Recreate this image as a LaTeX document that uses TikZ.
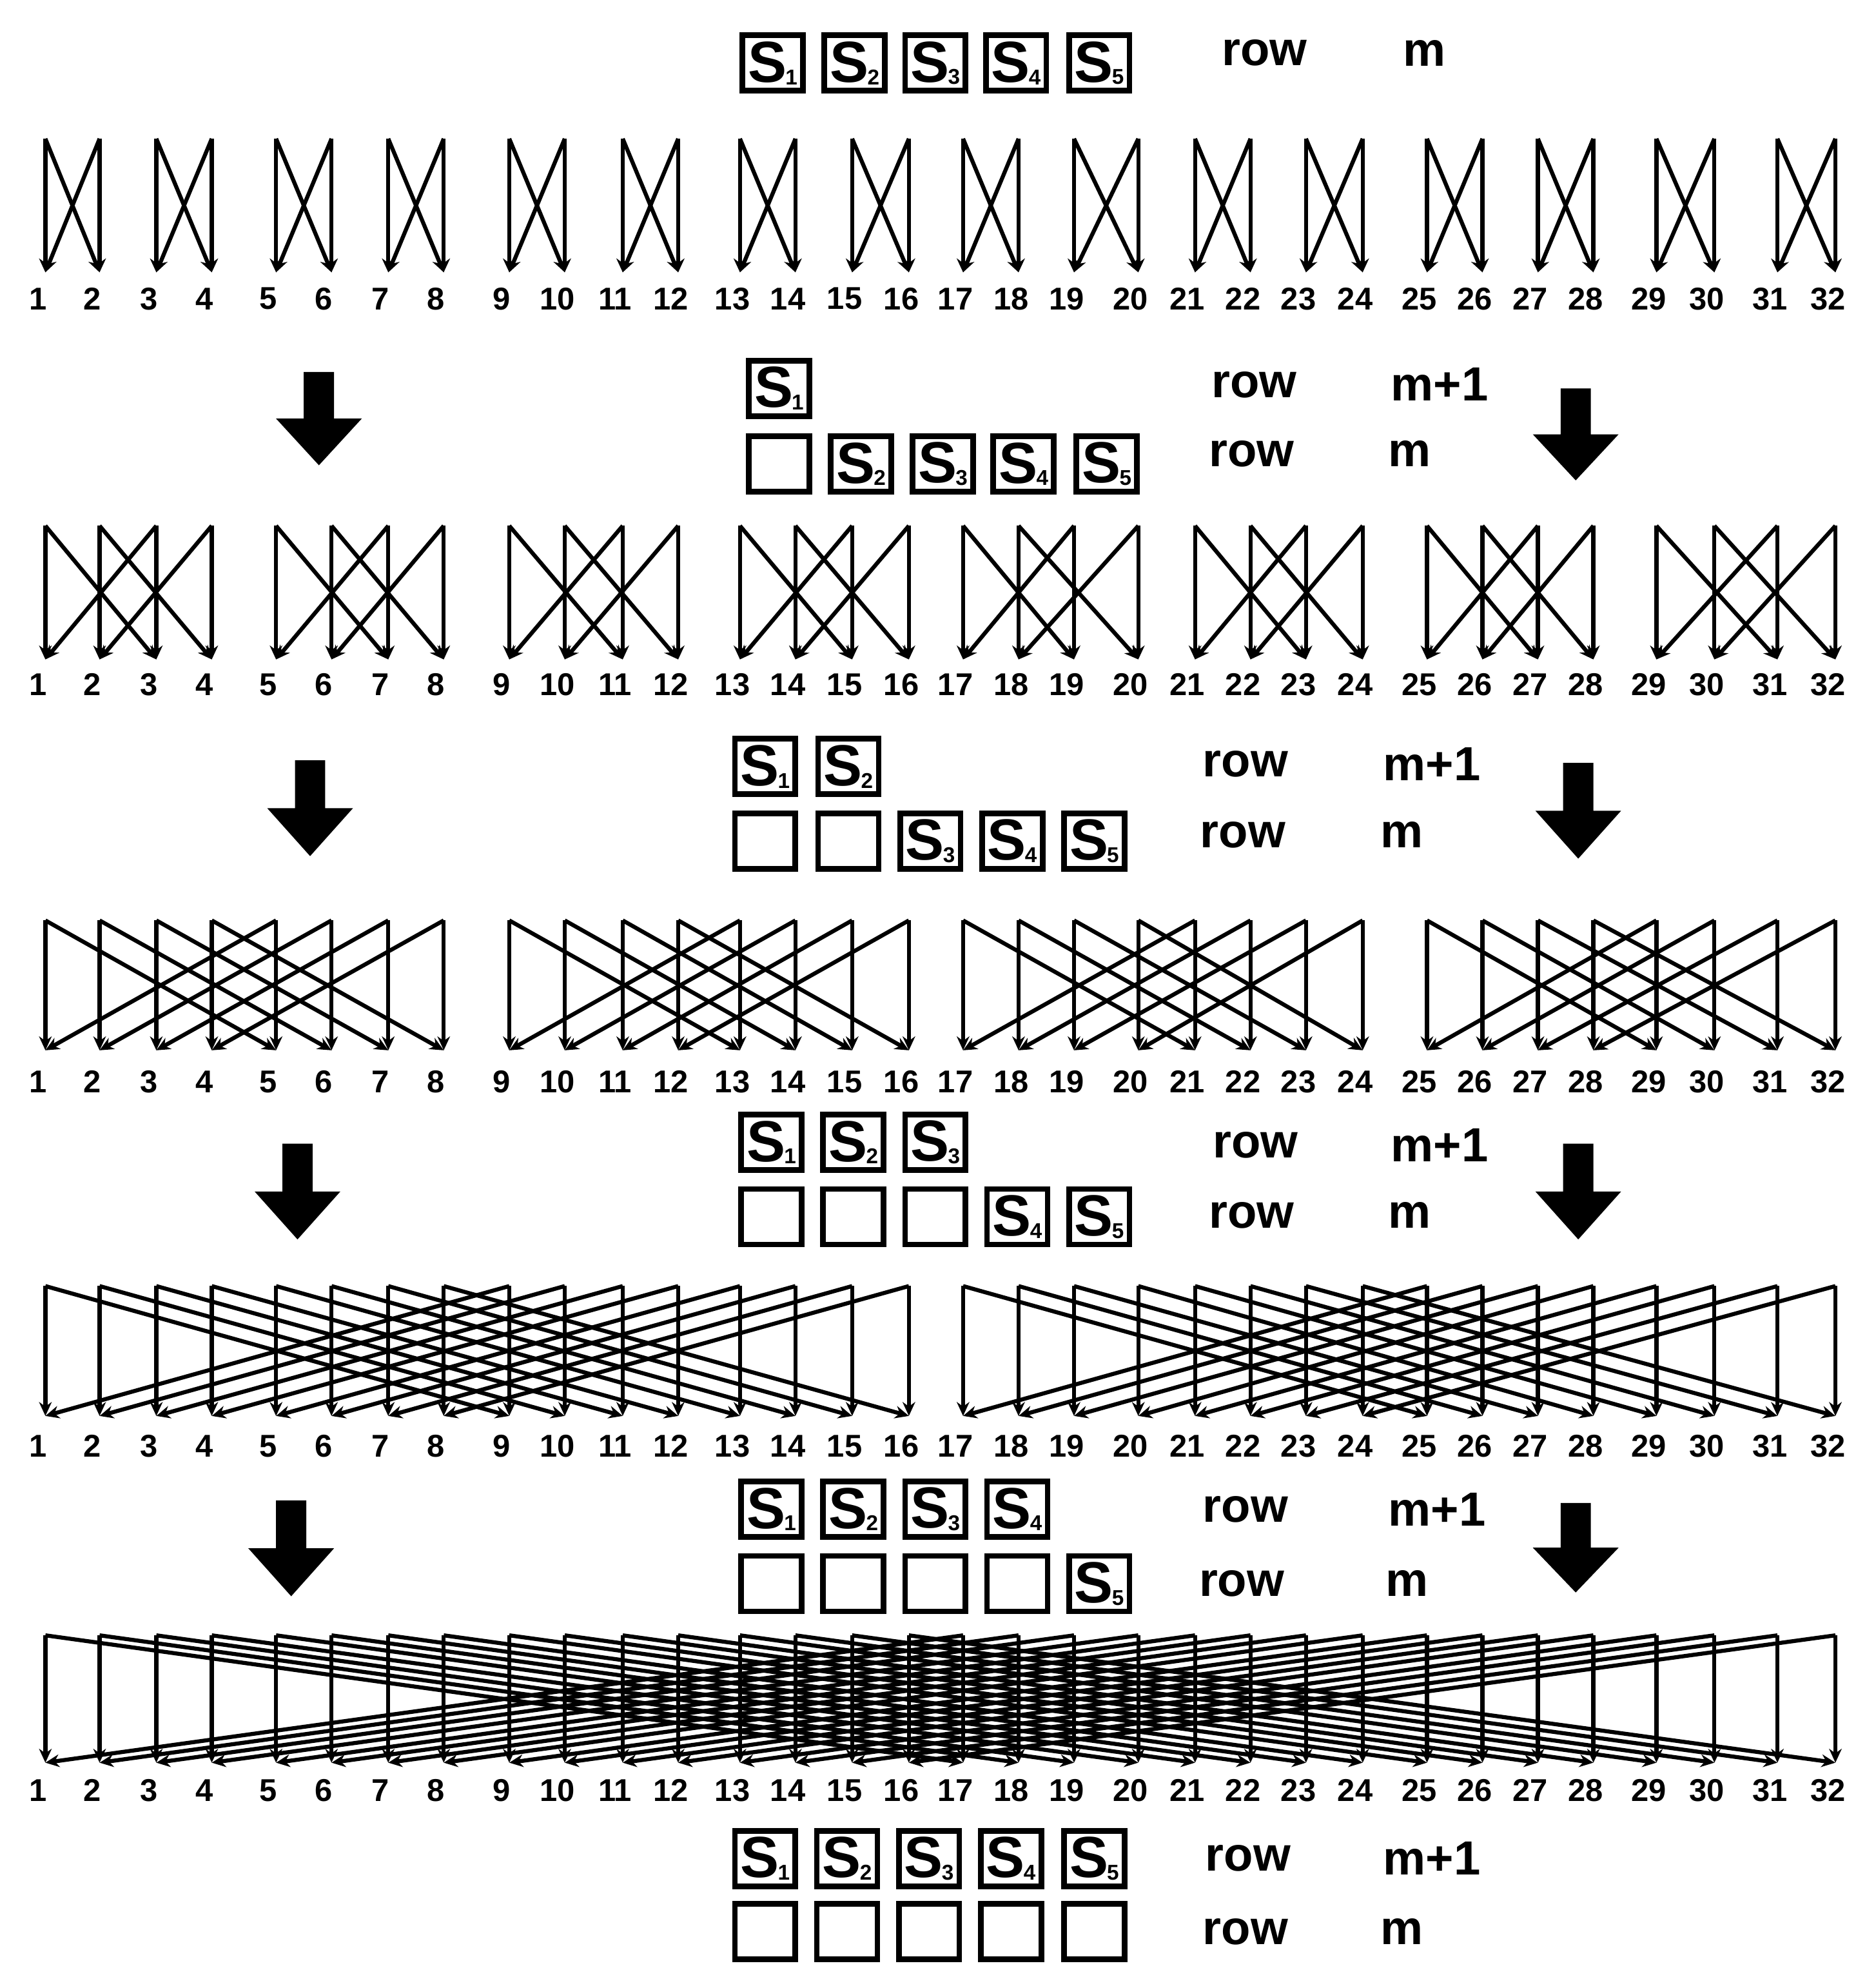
\documentclass[tikz,border=0pt]{standalone}
\usepackage{fontspec}
\setmainfont{Liberation Sans}
\usetikzlibrary{arrows.meta}
\begin{document}
\begin{tikzpicture}[x=1pt,y=-1pt,
  ln/.style={line width=3.2pt,-{Stealth[length=11pt,width=10pt]}},
  num/.style={font=\fontsize{25}{25}\selectfont\bfseries},
  lbl/.style={font=\fontsize{38}{38}\selectfont\bfseries},
  sbox/.style={draw,line width=4.5pt,minimum width=48pt,minimum height=44pt,inner sep=0pt}]
\useasboundingbox (0,0) rectangle (1488,1568);
\def\xs{{30,73,118,162,213,257,302,346,398,442,488,532,581,625,670,715,758,802,846,897,942,986,1030,1075,1126,1170,1214,1258,1308,1354,1404,1450}}
\newcommand{\stage}[4]{% d, top, bottom, labely
  \foreach \i in {0,...,31}{
    \pgfmathtruncatemacro\j{\i+(mod(floor(\i/#1),2)==0 ? #1 : -#1)}
    \pgfmathsetmacro\xa{\xs[\i]+6}
    \pgfmathsetmacro\xb{\xs[\j]+6}
    \pgfmathtruncatemacro\n{\i+1}
    \draw[ln] (\xa,#2) -- (\xa,#3);
    \draw[ln] (\xa,#2) -- (\xb,#3);
    \node[num] (L#1n\n) at (\xs[\i],#4) {\n};
  }}
\stage{1}{110}{216}{237}
\stage{2}{417}{523}{543}
\stage{4}{730}{833}{858}
\stage{8}{1020}{1123}{1147}
\stage{16}{1297}{1398}{1420}
\newcommand{\sbx}[3]{\node[sbox] at (#1,#2) {\fontsize{46}{46}\selectfont\bfseries S\kern-1pt\raisebox{-2pt}{\fontsize{17}{17}\selectfont\bfseries #3}};}
\newcommand{\ebx}[2]{\node[sbox] at (#1,#2) {};}
\newcommand{\rowlbl}[4]{\node[lbl] at (#1,#3) {row}; \node[lbl] at (#2,#3) {#4};}
\newcommand{\barrow}[3]{\fill (#1-12,#2) -- (#1+12,#2) -- (#1+12,#2+0.5*#3-0.5*#2) -- (#1+34,#2+0.5*#3-0.5*#2) -- (#1,#3) -- (#1-34,#2+0.5*#3-0.5*#2) -- (#1-12,#2+0.5*#3-0.5*#2) -- cycle;}
% block 1
\foreach \k/\x in {1/613,2/678,3/742,4/806,5/872}{\sbx{\x}{50}{\k}}
\rowlbl{1003}{1130}{42}{m}
% block 2
\sbx{618}{308}{1}
\ebx{618}{368}
\foreach \k/\x in {2/683,3/748,4/812,5/878}{\sbx{\x}{368}{\k}}
\rowlbl{995}{1142}{305}{m+1}\rowlbl{993}{1118}{360}{m}
\barrow{253}{295}{369}\barrow{1250}{308}{381}
% block 3
\sbx{607}{608}{1}\sbx{673}{608}{2}
\ebx{607}{667}\ebx{673}{667}
\foreach \k/\x in {3/738,4/803,5/868}{\sbx{\x}{667}{\k}}
\rowlbl{988}{1136}{606}{m+1}\rowlbl{986}{1112}{662}{m}
\barrow{246}{603}{679}\barrow{1252}{605}{681}
% block 4
\foreach \k/\x in {1/612,2/677,3/742}{\sbx{\x}{906}{\k}}
\foreach \x in {612,677,742}{\ebx{\x}{965}}
\sbx{807}{965}{4}\sbx{872}{965}{5}
\rowlbl{996}{1142}{908}{m+1}\rowlbl{993}{1118}{964}{m}
\barrow{236}{907}{983}\barrow{1252}{907}{983}
% block 5
\foreach \k/\x in {1/612,2/677,3/742,4/807}{\sbx{\x}{1197}{\k}}
\foreach \x in {612,677,742,807}{\ebx{\x}{1256}}
\sbx{872}{1256}{5}
\rowlbl{988}{1140}{1197}{m+1}\rowlbl{985}{1116}{1256}{m}
\barrow{231}{1190}{1266}\barrow{1250}{1192}{1263}
% block 6
\foreach \k/\x in {1/607,2/672,3/737,4/802,5/868}{\sbx{\x}{1474}{\k}\ebx{\x}{1532}}
\rowlbl{990}{1136}{1474}{m+1}\rowlbl{988}{1112}{1532}{m}
\end{tikzpicture}
\end{document}
